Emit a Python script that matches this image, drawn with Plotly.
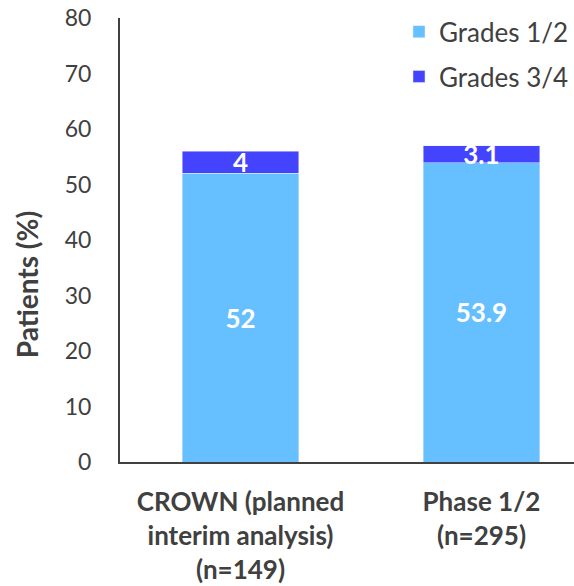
import plotly.graph_objects as go

categories = ["CROWN (planned<br>interim analysis)<br>(n=149)", "Phase 1/2<br>(n=295)"]
grades_12 = [52, 53.9]
grades_34 = [4, 3.1]
y_ticks = [0, 10, 20, 30, 40, 50, 60, 70, 80]

FONT = "Lato"
TEXT_GRAY = "#404040"

fig = go.Figure()
fig.add_trace(go.Bar(
    x=categories, y=grades_12, name="Grades 1/2",
    marker_color="#66BFFF", width=0.485,
    text=[str(v) for v in grades_12], textposition="inside",
    insidetextanchor="middle", constraintext="none", textangle=0,
    textfont=dict(family=FONT, size=26, color="white", weight="bold"),
    legendgroup="a",
))
fig.add_trace(go.Bar(
    x=categories, y=grades_34, name="Grades 3/4",
    marker_color="#4444FF", width=0.485,
    text=[str(v) for v in grades_34], textposition="inside",
    insidetextanchor="middle", constraintext="none", textangle=0,
    textfont=dict(family=FONT, size=26, color="white", weight="bold"),
    legendgroup="b",
))

# y-axis title placed a little below the vertical middle of the plot
fig.add_annotation(
    text="<b>Patients (%)</b>", textangle=-90, showarrow=False,
    xref="paper", yref="paper", x=-0.203, y=0.40,
    xanchor="center", yanchor="middle",
    font=dict(family=FONT, size=28, color=TEXT_GRAY),
)

fig.update_layout(
    width=574, height=586,
    barmode="stack",
    plot_bgcolor="white", paper_bgcolor="white",
    margin=dict(l=120, r=0, t=18, b=124, autoexpand=False),
    font=dict(family=FONT, color=TEXT_GRAY),
    legend=dict(
        x=1.0, y=1.022, xanchor="right", yanchor="top",
        font=dict(size=26, color=TEXT_GRAY),
        traceorder="grouped", tracegroupgap=8,
        bgcolor="rgba(0,0,0,0)",
    ),
    xaxis=dict(
        range=[-0.5, 1.384],
        showline=True, linecolor=TEXT_GRAY, linewidth=2,
        ticks="", ticklabelstandoff=16,
        tickfont=dict(size=26, color=TEXT_GRAY, weight="bold"),
        showgrid=False,
    ),
    yaxis=dict(
        range=[0, 80], tickvals=y_ticks,
        showline=True, linecolor=TEXT_GRAY, linewidth=2,
        ticks="", ticklabelstandoff=22,
        tickfont=dict(size=23, color=TEXT_GRAY),
        showgrid=False, zeroline=False,
    ),
)

fig.write_html("out.html")
